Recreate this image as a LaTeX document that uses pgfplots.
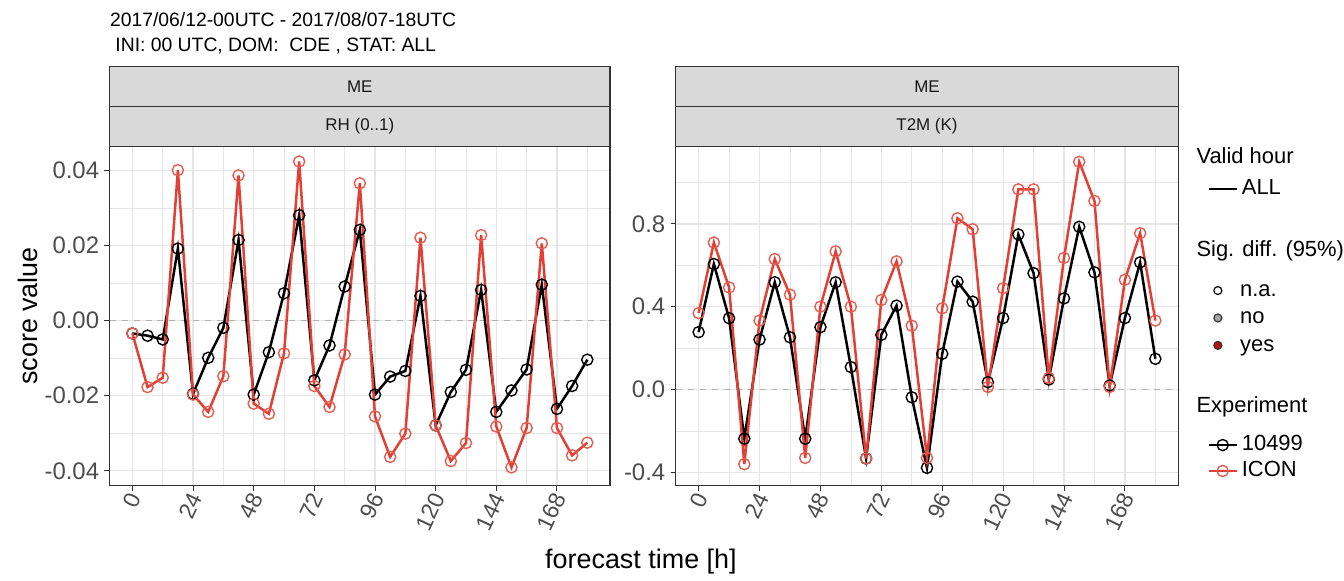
\documentclass[border=0pt]{standalone}
\usepackage{pgfplots}
\pgfplotsset{compat=1.18}
\usepackage{pgfplotstable}
\usepackage{fontspec}
\setmainfont{Liberation Sans}
\definecolor{iconred}{RGB}{226,64,52}
\definecolor{stripgray}{RGB}{217,217,217}
\definecolor{gridgray}{RGB}{230,230,230}
\definecolor{gtwenty}{RGB}{51,51,51}
\definecolor{gthirty}{RGB}{77,77,77}
\definecolor{yesred}{RGB}{190,16,16}

\pgfplotstableread{
t rhA rhB tA tB
0 -0.0034 -0.0034 0.277 0.369
6 -0.0040 -0.0177 0.606 0.710
12 -0.0050 -0.0152 0.344 0.493
18 0.0192 0.0401 -0.238 -0.361
24 -0.0195 -0.0197 0.241 0.333
30 -0.0099 -0.0243 0.518 0.630
36 -0.0019 -0.0148 0.252 0.458
42 0.0215 0.0387 -0.238 -0.331
48 -0.0197 -0.0221 0.301 0.400
54 -0.0084 -0.0248 0.518 0.667
60 0.0073 -0.0087 0.108 0.400
66 0.0281 0.0424 -0.334 -0.334
72 -0.0159 -0.0174 0.264 0.432
78 -0.0066 -0.0230 0.405 0.619
84 0.0091 -0.0090 -0.038 0.308
90 0.0242 0.0366 -0.379 -0.331
96 -0.0197 -0.0255 0.172 0.392
102 -0.0149 -0.0363 0.521 0.827
108 -0.0134 -0.0301 0.424 0.774
114 0.0066 0.0221 0.035 0.012
120 -0.0279 -0.0279 0.345 0.489
126 -0.0190 -0.0374 0.749 0.967
132 -0.0131 -0.0326 0.562 0.967
138 0.0082 0.0228 0.048 0.055
144 -0.0243 -0.0282 0.440 0.636
150 -0.0186 -0.0391 0.786 1.100
156 -0.0130 -0.0286 0.566 0.911
162 0.0096 0.0206 0.019 0.012
168 -0.0235 -0.0286 0.345 0.530
174 -0.0174 -0.0359 0.614 0.755
180 -0.0104 -0.0325 0.148 0.333
}\datatab

\pgfplotsset{
  panel/.style={
    scale only axis, height=170pt,
    xmin=-9, xmax=189,
    xtick={0,24,48,72,96,120,144,168},
    xticklabels={0,24,48,72,96,120,144,168},
    minor xtick={12,36,60,84,108,132,156,180},
    grid=both,
    major grid style={gridgray, line width=0.6pt},
    minor grid style={gridgray, line width=0.3pt},
    axis line style={gtwenty, line width=0.55pt},
    tick style={gtwenty, line width=0.5pt},
    major tick length=2.6pt, minor tick length=0pt,
    tick align=outside, tick pos=left,
    xticklabel style={rotate=65, anchor=east, font=\fontsize{11.5}{13}\selectfont, text=gthirty, inner sep=1pt, yshift=-2pt},
    yticklabel style={font=\fontsize{12}{14}\selectfont, text=gthirty, inner sep=2.5pt},
    /pgf/number format/assume math mode=true,
    clip=false,
  },
  blk/.style={black, line width=1.25pt, mark=o, mark size=2.8pt, mark options={line width=0.7pt, solid}},
  red/.style={iconred, line width=1.25pt, mark=o, mark size=2.8pt, mark options={line width=0.7pt, solid, iconred!85!white}},
  zero/.style={gray!60, line width=0.6pt, dash pattern=on 3pt off 3pt},
  legax/.style={hide axis, scale only axis, width=1pt, height=1pt,
    xmin=0, xmax=1, ymin=0, ymax=1, anchor=south west,
    legend style={at={(rel axis cs:0,0)}, anchor=north west,
      draw=none, fill=none, inner sep=0pt, column sep=0pt,
      nodes={inner sep=0pt, text height=8.2pt, text depth=2.3pt, font=\fontsize{11}{13}\selectfont}},
    legend cell align=left,
    legend image code/.code={\draw[mark repeat=2, mark phase=2, ##1] plot coordinates {(0pt,0pt) (7pt,0pt) (14pt,0pt)};},
  },
  dotkey/.style={only marks, mark=*, mark size=2pt,
    legend image code/.code={\path (0pt,0pt) (14pt,0pt); \draw[##1] plot coordinates {(5pt,0pt)};}},
}

\begin{document}
\begin{tikzpicture}[x=1pt,y=1pt]
\path[fill=white] (0,0) rectangle (672,288);

% left panel
\begin{axis}[panel, width=251pt, at={(55pt,44.5pt)}, anchor=south west,
  ymin=-0.0439, ymax=0.0464,
  ytick={-0.04,-0.02,0,0.02,0.04},
  yticklabels={-0.04,-0.02,0.00,0.02,0.04},
  minor ytick={-0.03,-0.01,0.01,0.03}]
\addplot[forget plot, zero] coordinates {(-9,0) (189,0)};
\addplot[forget plot, blk] table[x=t, y=rhA] {\datatab};
\addplot[forget plot, red] table[x=t, y=rhB] {\datatab};
\end{axis}

% right panel
\begin{axis}[panel, width=252pt, at={(339pt,44.5pt)}, anchor=south west,
  ymin=-0.464, ymax=1.174,
  ytick={-0.4,0,0.4,0.8},
  yticklabels={-0.4,0.0,0.4,0.8},
  minor ytick={-0.2,0.2,0.6,1.0}]
\addplot[forget plot, zero] coordinates {(-9,0) (189,0)};
\addplot[forget plot, blk] table[x=t, y=tA] {\datatab};
\addplot[forget plot, red] table[x=t, y=tB] {\datatab};
\end{axis}

% legend groups
\begin{axis}[legax, at={(605.5pt,198.7pt)}, legend style={row sep=3pt}]
\addlegendimage{black, line width=1.25pt}
\addlegendentry{\hspace*{2pt}ALL}
\end{axis}
\begin{axis}[legax, at={(605.5pt,147.7pt)}, legend style={row sep=3.25pt}]
\addlegendimage{dotkey, mark options={fill=white, draw=black, line width=0.6pt}}
\addlegendentry{\hspace*{2pt}n.a.}
\addlegendimage{dotkey, mark options={fill=gray!70, draw=gtwenty, line width=0.6pt}}
\addlegendentry{\hspace*{2pt}no}
\addlegendimage{dotkey, mark options={fill=yesred, draw=gtwenty, line width=0.6pt}}
\addlegendentry{\hspace*{2pt}yes}
\end{axis}
\begin{axis}[legax, at={(605.5pt,70.2pt)}, legend style={row sep=2.5pt}]
\addlegendimage{blk}
\addlegendentry{\hspace*{2pt}10499}
\addlegendimage{red}
\addlegendentry{\hspace*{2pt}ICON}
\end{axis}
\node[anchor=west, inner sep=0pt, font=\fontsize{11}{13}\selectfont] at (600,210) {Valid hour};
\node[anchor=west, inner sep=0pt, font=\fontsize{11}{13}\selectfont] at (600,162) {Sig. diff. (95\%)};
\node[anchor=west, inner sep=0pt, font=\fontsize{11}{13}\selectfont] at (600,84) {Experiment};

% strips
\foreach \xa/\xb/\lab in {55/306/{RH (0..1)}, 339/591/{T2M (K)}} {
  \draw[fill=stripgray, draw=gtwenty, line width=0.55pt] (\xa,214.5) rectangle (\xb,234.5);
  \draw[fill=stripgray, draw=gtwenty, line width=0.55pt] (\xa,234.5) rectangle (\xb,254.5);
  \node[font=\fontsize{8.5}{10}\selectfont, text=black!90] at ({(\xa+\xb)/2},224.5) {\lab};
  \node[font=\fontsize{8.5}{10}\selectfont, text=black!90] at ({(\xa+\xb)/2},244.5) {ME};
}

% titles
\node[anchor=base west, inner sep=0pt, font=\fontsize{9.7}{11}\selectfont] at (55,274.5) {2017/06/12-00UTC - 2017/08/07-18UTC};
\node[anchor=base west, inner sep=0pt, font=\fontsize{9.7}{11}\selectfont] at (55,262) {\ INI: 00 UTC, DOM:\ \ CDE , STAT: ALL};
\node[rotate=90, font=\fontsize{13.5}{15}\selectfont] at (14,129.5) {score value};
\node[font=\fontsize{13.5}{15}\selectfont] at (321.5,6.5) {forecast time [h]};
\end{tikzpicture}
\end{document}
